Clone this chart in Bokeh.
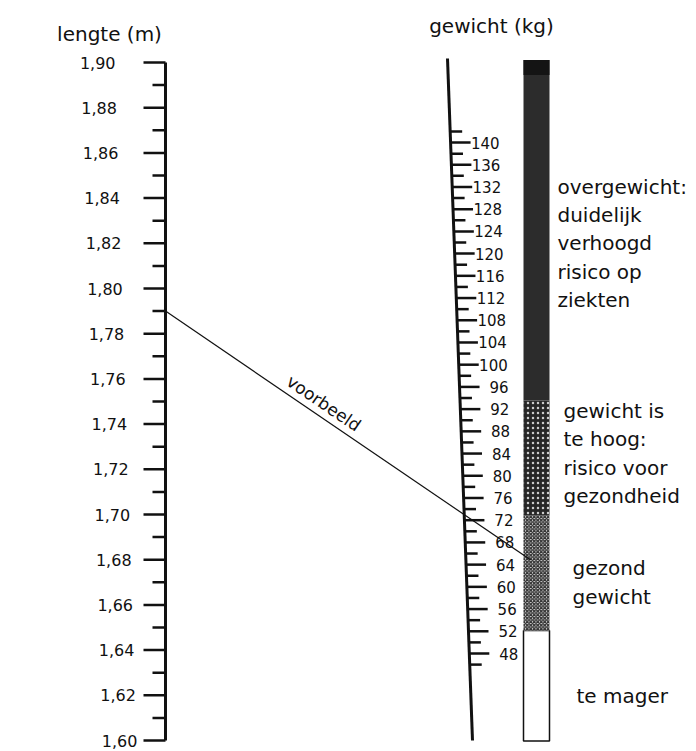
import math
from bokeh.plotting import figure
from bokeh.models import Range1d, ColumnDataSource
from bokeh.core.properties import value
from bokeh.embed import file_html
from bokeh.resources import INLINE

# ------------------------------------------------------------------ data
lengte_major = [1.60, 1.62, 1.64, 1.66, 1.68, 1.70, 1.72, 1.74, 1.76, 1.78,
                1.80, 1.82, 1.84, 1.86, 1.88, 1.90]
lengte_labels = ["1,60", "1,62", "1,64", "1,66", "1,68", "1,70", "1,72", "1,74",
                 "1,76", "1,78", "1,80", "1,82", "1,84", "1,86", "1,88", "1,90"]
lengte_minor = [1.61, 1.63, 1.65, 1.67, 1.69, 1.71, 1.73, 1.75, 1.77, 1.79,
                1.81, 1.83, 1.85, 1.87, 1.89]

gewicht_major = [48, 52, 56, 60, 64, 68, 72, 76, 80, 84, 88, 92, 96, 100, 104,
                 108, 112, 116, 120, 124, 128, 132, 136, 140]
gewicht_labels = ["48", "52", "56", "60", "64", "68", "72", "76", "80", "84",
                  "88", "92", "96", "100", "104", "108", "112", "116", "120",
                  "124", "128", "132", "136", "140"]
gewicht_minor = [46, 50, 54, 58, 62, 66, 70, 74, 78, 82, 86, 90, 94, 98, 102,
                 106, 110, 114, 118, 122, 126, 130, 134, 138, 142]

bmi_van = [15.2, 20, 25, 30]
bmi_tot = [20, 25, 30, 44.8]
zone_teksten = ["te mager",
                "gezond\ngewicht",
                "gewicht is\nte hoog:\nrisico voor\ngezondheid",
                "overgewicht:\nduidelijk\nverhoogd\nrisico op\nziekten"]

voorbeeld_lengte = 1.79
voorbeeld_gewicht = 73
voorbeeld_tekst = "voorbeeld"

titel_lengte = "lengte (m)"
titel_gewicht = "gewicht (kg)"

# ------------------------------------------------------------------ layout
FONT = value("DejaVu Sans")
INK = "#111111"
W, H = 696, 751
K = (740 - 62) / 0.30          # px per metre on screen (1.90 at row 62)


def h_row(y):                  # screen row -> metre units of the plot
    return 1.90 - (y - 62) / K


def y_gewicht(w):              # weight scale (screen rows)
    return 653 - (w - 48) * 5.554


def y_bmi(b):                  # BMI bar scale (screen rows)
    return 515 - (b - 25) * 23.0


def x_gewicht_as(yr):          # slanted weight axis
    return 447 + (yr - 58) * 25.0 / 682.0


AX_X = 165
BAR_L, BAR_R = 523, 549

p = figure(width=W, height=H, output_backend="svg", toolbar_location=None,
           x_range=Range1d(0, W), y_range=Range1d(h_row(H), h_row(0)),
           x_axis_type=None, y_axis_type=None, title=None,
           min_border_left=0, min_border_right=0, min_border_top=0,
           min_border_bottom=0)
p.outline_line_color = None
p.background_fill_color = "white"
p.border_fill_color = "white"
p.grid.visible = False

# ---- titles
p.text(x=[109, 491], y=[h_row(33), h_row(25)], text=[titel_lengte, titel_gewicht],
       text_align="center", text_baseline="middle", text_font=FONT,
       text_font_size="20px", text_color=INK)

# ---- height scale (left)
p.segment(x0=[AX_X], y0=[lengte_major[0]], x1=[AX_X], y1=[lengte_major[-1]],
          line_width=3, line_color=INK)
p.segment(x0=[AX_X - 22] * len(lengte_major), y0=lengte_major,
          x1=[AX_X] * len(lengte_major), y1=lengte_major,
          line_width=2.5, line_color=INK)
p.segment(x0=[AX_X - 13] * len(lengte_minor), y0=lengte_minor,
          x1=[AX_X] * len(lengte_minor), y1=lengte_minor,
          line_width=2.5, line_color=INK)
p.text(x=[115 + (1.90 - h) * 73 for h in lengte_major], y=lengte_major,
       text=lengte_labels, text_align="right", text_baseline="middle",
       text_font=FONT, text_font_size="16px", text_color=INK)

# ---- slanted weight scale
p.segment(x0=[x_gewicht_as(58)], y0=[h_row(58)], x1=[x_gewicht_as(740)],
          y1=[h_row(740)], line_width=3, line_color=INK)

gm_y = [y_gewicht(w) for w in gewicht_major]
gm_x = [x_gewicht_as(y) for y in gm_y]
p.segment(x0=gm_x, y0=[h_row(y) for y in gm_y], x1=[x + 20 for x in gm_x],
          y1=[h_row(y) for y in gm_y], line_width=2.5, line_color=INK)
gn_y = [y_gewicht(w) for w in gewicht_minor]
gn_x = [x_gewicht_as(y) for y in gn_y]
p.segment(x0=gn_x, y0=[h_row(y) for y in gn_y], x1=[x + 12 for x in gn_x],
          y1=[h_row(y) for y in gn_y], line_width=2.5, line_color=INK)
p.text(x=[x + 49 for x in gm_x], y=[h_row(y) for y in gm_y], text=gewicht_labels,
       text_align="right", text_baseline="middle", text_font=FONT,
       text_font_size="15px", text_color=INK)

# ---- BMI bar
zones = ColumnDataSource(dict(
    bottom=[h_row(y_bmi(b)) for b in bmi_van],
    top=[h_row(y_bmi(b)) for b in bmi_tot],
    fill=["white", "#e6e6e6", "#262626", "#2c2c2c"],
    hatch=[" ", "diagonal_cross", "dot", " "],
    hcol=["black", "#333333", "#cccccc", "black"],
    hscale=[4, 3.5, 5, 4],
    hweight=[1, 1.4, 1.5, 1],
    lalpha=[1, 0, 0, 0],
))
p.quad(left=BAR_L, right=BAR_R, bottom="bottom", top="top", source=zones,
       fill_color="fill", hatch_pattern="hatch", hatch_color="hcol",
       hatch_scale="hscale", hatch_weight="hweight", line_color=INK,
       line_alpha="lalpha", line_width=1.5)
top_h = h_row(y_bmi(bmi_tot[-1]))
p.quad(left=[BAR_L], right=[BAR_R], bottom=[top_h - 15 / K], top=[top_h],
       fill_color="#141414", line_color=None)

zone_x = [576, 572, 563, 557]
zone_y = [695, 582, 453, 243]
p.text(x=zone_x, y=[h_row(y) for y in zone_y], text=zone_teksten,
       text_align="left", text_baseline="middle", text_font=FONT,
       text_font_size="20px", text_color=INK, text_line_height=1.18)

# ---- example line: through lengte and gewicht, extended to the bar
yr_w = y_gewicht(voorbeeld_gewicht)
x_w = x_gewicht_as(yr_w)
h_w = h_row(yr_w)
x_end = 530
h_end = voorbeeld_lengte + (h_w - voorbeeld_lengte) * (x_end - AX_X) / (x_w - AX_X)
p.line(x=[AX_X, x_end], y=[voorbeeld_lengte, h_end], line_width=1.2,
       line_color=INK)

slope = (voorbeeld_lengte - h_end) * K / (x_end - AX_X)
theta = math.atan(slope)
x_t = 316
h_t = voorbeeld_lengte + (h_end - voorbeeld_lengte) * (x_t - AX_X) / (x_end - AX_X)
p.text(x=[x_t], y=[h_t], text=[voorbeeld_tekst], angle=-theta,
       x_offset=3 * math.sin(theta), y_offset=-3 * math.cos(theta),
       text_align="center", text_baseline="bottom", text_font=FONT,
       text_font_size="17px", text_color=INK)

open("out.html", "w").write(file_html(p, INLINE))
